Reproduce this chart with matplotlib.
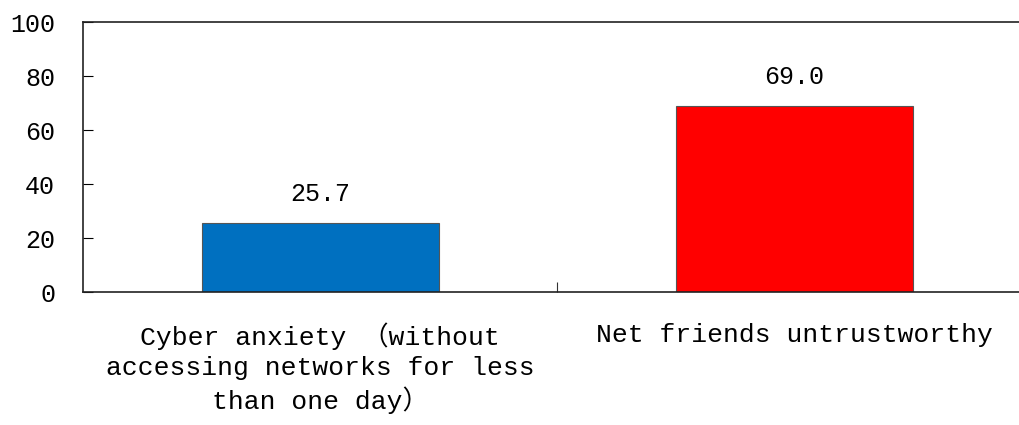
import matplotlib
matplotlib.use("Agg")
import matplotlib.pyplot as plt
from matplotlib.ticker import FixedLocator

categories = ["Cyber anxiety （without\naccessing networks for less\nthan one day）",
              "Net friends untrustworthy"]
values = [25.7, 69.0]
value_labels = ["25.7", "69.0"]
colors = ["#0070C0", "#FF0000"]
yticks = [0, 20, 40, 60, 80, 100]

fam = ["Liberation Mono", "Noto Sans CJK SC", "DejaVu Sans"]
plt.rcParams['font.family'] = fam

fig = plt.figure(figsize=(10.19, 4.25), dpi=100)
ax = fig.add_axes([83/1019, 133/425, 948/1019, 270/425])

x = list(range(len(categories)))
bars = ax.bar(x, values, width=0.5, color=colors, edgecolor="#555555", linewidth=0.8, zorder=2)
for xi, v, lab in zip(x, values, value_labels):
    ax.annotate(lab, (xi, v), xytext=(0, 12), textcoords="offset points",
                ha="center", va="bottom", fontsize=18, color="black", family=fam)

ax.set_xlim(-0.5, 1.5)
ax.set_ylim(0, 100)
ax.set_yticks(yticks)
ax.set_yticklabels([str(t) for t in yticks], fontsize=18, family=fam)
ax.tick_params(axis='y', direction='in', length=7, width=0.8, pad=20, colors='black')

ax.set_xticks(x)
ax.set_xticklabels(categories, fontsize=19, family=fam, linespacing=1.3)
ax.tick_params(axis='x', which='major', length=0, pad=22)
ax.xaxis.set_minor_locator(FixedLocator([0.5]))
ax.tick_params(axis='x', which='minor', direction='in', length=7, width=0.8, color='#333333')

for s in ['top', 'left', 'bottom']:
    ax.spines[s].set_linewidth(1.2)
    ax.spines[s].set_color('#222222')
ax.spines['right'].set_visible(False)

fig.savefig("out.png", dpi=100)
